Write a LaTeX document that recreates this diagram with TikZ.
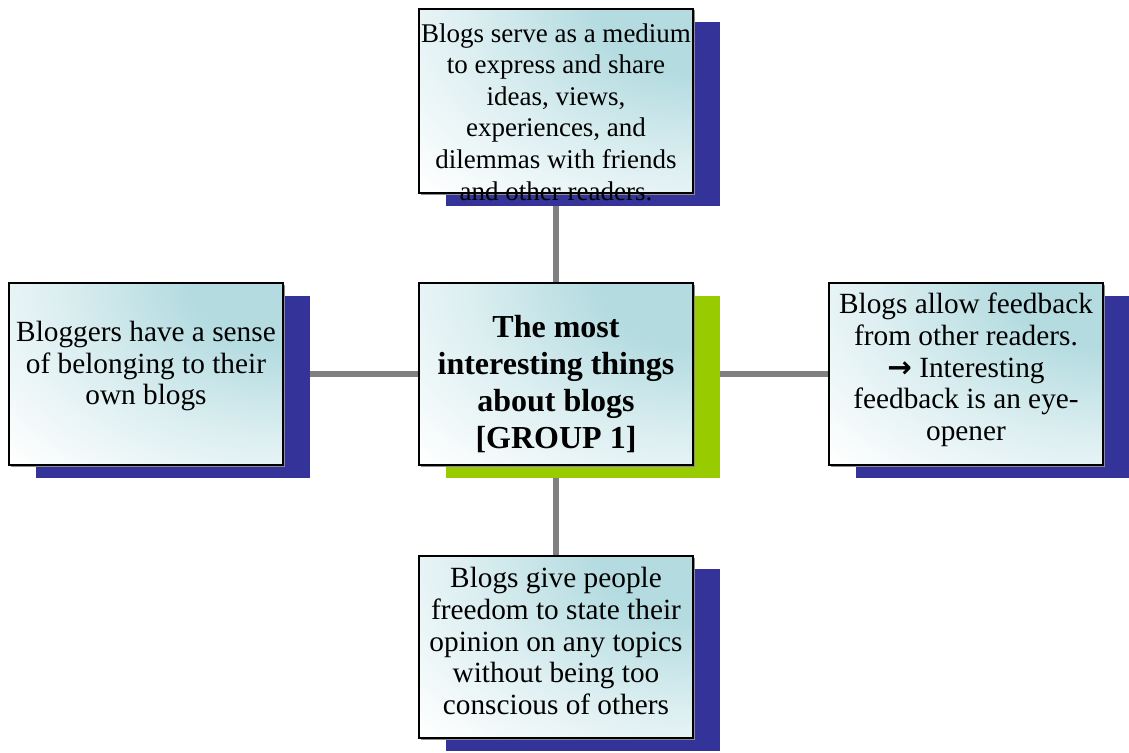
\documentclass[tikz,border=0pt]{standalone}
\usepackage{fontspec}
\setmainfont{Liberation Serif}
\newfontfamily\arrowfont{DejaVu Sans}
\usetikzlibrary{shadows}
\definecolor{shadowblue}{HTML}{333399}
\definecolor{shadowgreen}{HTML}{99CC00}
\definecolor{boxcyan}{HTML}{B3DBE0}
\definecolor{linkgray}{HTML}{808080}
% light cyan glow, fading out towards the rim
\pgfdeclareradialshading{cardglow}{\pgfpoint{0bp}{0bp}}{%
  color(0bp)=(boxcyan); color(8bp)=(boxcyan); color(20bp)=(boxcyan!45!white);
  color(33bp)=(white); color(50bp)=(white)}
\pgfdeclarelayer{links}
\pgfsetlayers{links,main}
\begin{document}
\begin{tikzpicture}[x=1pt,y=1pt,
  card/.style={draw=black, line width=1.8pt, minimum width=274pt,
    minimum height=182pt, inner sep=0pt, fill=white,
    path picture={\shade[shading=cardglow]
      ([xshift=-285pt,yshift=-195pt]path picture bounding box.north east) rectangle
      ([xshift=285pt,yshift=195pt]path picture bounding box.north east);},
    drop shadow={shadow xshift=27pt, shadow yshift=-13pt, fill=#1, opacity=1},
    drop shadow={shadow xshift=1.5pt, shadow yshift=-1.5pt, fill=black!45, opacity=1}},
  card/.default=shadowblue,
  label/.style={align=center, inner sep=0pt, font=\fontsize{29.3}{31.7}\selectfont},
  link/.style={draw=linkgray, line width=6pt}]
\useasboundingbox (0,0) rectangle (1129,-752);

% boxes with their drop shadows
\node[card, minimum height=184pt] (top) at (556,-101) {};
\node[card=shadowgreen] (mid) at (556,-374) {};
\node[card] (left) at (146,-374) {};
\node[card] (right) at (966,-374) {};
\node[card] (bottom) at (556,-647) {};

% texts
\node[label, font=\fontsize{27}{31.6}\selectfont] (toptext) at (556,-112)
  {Blogs serve as a medium\\to express and share\\ideas, views,\\experiences, and\\dilemmas with friends\\and other readers.};
\node[label, font=\bfseries\fontsize{32}{37}\selectfont] (midtext) at (556,-384)
  {The most\\interesting things\\about blogs\\{[}GROUP 1{]}};
\node[label] (lefttext) at (146,-366)
  {Bloggers have a sense\\of belonging to their\\own blogs};
\node[label] (righttext) at (966,-370)
  {Blogs allow feedback\\from other readers.\\{\arrowfont\bfseries →} Interesting\\feedback is an eye-\\opener};
\node[label] (bottomtext) at (556,-641)
  {Blogs give people\\freedom to state their\\opinion on any topics\\without being too\\conscious of others};

% connectors behind everything
\begin{pgfonlayer}{links}
  \draw[link] (top) -- (mid);
  \draw[link] (mid) -- (bottom);
  \draw[link] (left) -- (mid);
  \draw[link] (mid) -- (right);
\end{pgfonlayer}
\end{tikzpicture}
\end{document}
